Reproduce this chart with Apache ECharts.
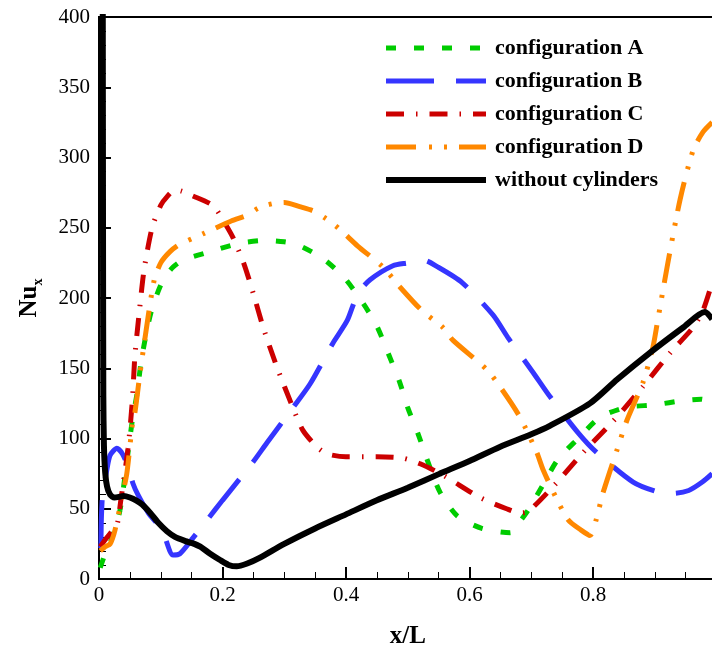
<!DOCTYPE html>
<html><head><meta charset="utf-8">
<script src="https://cdn.jsdelivr.net/npm/echarts@6/dist/echarts.min.js"></script>
<style>html,body{margin:0;padding:0;background:#fff}#c{width:712px;height:648px}</style>
</head><body><div id="c"></div>
<script>
const seriesNames = ['configuration A','configuration B','configuration C','configuration D','without cylinders'];
const xTickValues = [0, 0.2, 0.4, 0.6, 0.8, 1];
const yTickValues = [0, 50, 100, 150, 200, 250, 300, 350, 400];

const configA = [[0.002,8],[0.01,18],[0.02,28],[0.034,49],[0.047,90],[0.054,113],[0.062,133],[0.068,154],[0.078,178],[0.087,194],[0.104,213],[0.12,222],[0.136,227],[0.18,233],[0.228,239],[0.272,241],[0.3,240],[0.321,238],[0.363,228],[0.398,214],[0.428,196],[0.45,180],[0.468,161],[0.487,140],[0.5,122],[0.517,103],[0.533,83],[0.552,62],[0.58,45],[0.62,36],[0.666,33],[0.68,40],[0.695,49],[0.719,67],[0.743,85],[0.776,100],[0.811,115],[0.852,122],[0.9,124],[0.946,127],[0.975,128],[0.993,126]];

const configB = [[0.003,22],[0.004,45],[0.006,61],[0.012,76],[0.018,88],[0.029,93],[0.038,89],[0.047,80],[0.055,68],[0.063,60],[0.08,47],[0.102,35],[0.12,17],[0.131,18],[0.15,28],[0.175,42],[0.2,56],[0.249,83],[0.272,97],[0.314,122],[0.342,139],[0.379,168],[0.402,184],[0.419,203],[0.439,213],[0.476,223],[0.5,225],[0.525,227],[0.549,222],[0.588,211],[0.638,188],[0.662,172],[0.703,147],[0.73,130],[0.776,104],[0.806,90],[0.865,69],[0.905,62],[0.93,61],[0.955,63],[0.977,69],[0.993,75]];

const configC = [[0.002,23],[0.01,28],[0.023,35],[0.03,40],[0.035,55],[0.047,93],[0.054,127],[0.058,158],[0.065,189],[0.073,220],[0.086,250],[0.1,266],[0.11,272],[0.123,277],[0.134,276],[0.15,273],[0.184,266],[0.2,256],[0.217,243],[0.235,224],[0.25,203],[0.266,179],[0.288,151],[0.314,122],[0.33,106],[0.353,94],[0.37,89],[0.4,87],[0.45,87],[0.492,86],[0.52,82],[0.557,74],[0.617,58],[0.66,50],[0.682,47],[0.695,48],[0.738,67],[0.784,90],[0.832,112],[0.881,137],[0.925,161],[0.962,179],[0.978,191],[0.993,211]];

const configD = [[0.002,20],[0.01,23],[0.018,25],[0.026,35],[0.037,58],[0.045,75],[0.054,110],[0.058,118],[0.066,145],[0.074,170],[0.089,212],[0.1,225],[0.115,233],[0.13,238],[0.17,246],[0.215,255],[0.24,259],[0.258,264],[0.28,267],[0.3,268],[0.325,265],[0.347,262],[0.366,257],[0.387,250],[0.419,237],[0.46,222],[0.487,208],[0.523,191],[0.557,179],[0.573,170],[0.628,149],[0.654,134],[0.682,115],[0.709,90],[0.719,78],[0.74,58],[0.76,42],[0.78,35],[0.795,31],[0.805,42],[0.816,61],[0.839,92],[0.855,113],[0.881,140],[0.897,165],[0.904,182],[0.92,222],[0.941,270],[0.962,305],[0.978,318],[0.993,325]];

const withoutCylinders = [[0.006,450],[0.0065,250],[0.007,130],[0.008,95],[0.01,76],[0.013,66],[0.018,60],[0.025,58],[0.04,59],[0.05,58],[0.06,56],[0.07,53],[0.083,47],[0.096,40],[0.11,34],[0.123,30],[0.14,27],[0.151,25.5],[0.164,23],[0.18,18],[0.196,13.5],[0.21,10],[0.223,9],[0.24,11],[0.26,15],[0.3,25],[0.35,36],[0.4,46],[0.45,56],[0.5,65],[0.552,75],[0.6,84],[0.649,94],[0.7,103],[0.73,109],[0.795,125],[0.839,142],[0.892,161],[0.946,179],[0.981,190],[0.993,185]];

const seriesData = [configA, configB, configC, configD, withoutCylinders];
const colors = ['#00cc00', '#3535ff', '#cc0000', '#ff8800', '#000000'];
const dashes = [[10,18], [48,22], [18,12,1.5,12], [30,13,3,12,3,12], 'solid'];
const widths = [5, 5, 5, 5, 6];

const FONT = "'Liberation Serif','Times New Roman',serif";
const chart = echarts.init(document.getElementById('c'));
chart.setOption({
  animation: false,
  backgroundColor: '#fff',
  grid: { left: 99, top: 17, right: -4.5, bottom: 69, containLabel: false, outerBoundsMode: 'none',
          show: true, borderColor: '#000', borderWidth: 2, backgroundColor: 'transparent' },
  legend: {
    orient: 'vertical', left: 378, top: 32,
    itemWidth: 100, itemHeight: 21, itemGap: 11,
    itemStyle: { opacity: 0 },
    data: seriesNames.map((n, i) => ({ name: n, lineStyle: { width: widths[i] } })),
    textStyle: { fontFamily: FONT, fontSize: 22, fontWeight: 'bold', color: '#000', padding: [0,0,0,4], lineHeight: 21 }
  },
  xAxis: {
    type: 'value', min: 0, max: 1, interval: 0.2,
    name: 'x/L', nameLocation: 'middle', nameGap: 45,
    nameTextStyle: { fontFamily: FONT, fontSize: 25, fontWeight: 'bold', color: '#000' },
    axisLine: { show: true, lineStyle: { color: '#000', width: 2 } },
    axisTick: { show: true, inside: true, length: 12, lineStyle: { color: '#000', width: 2 } },
    minorTick: { show: true, splitNumber: 4, length: 7, lineStyle: { color: '#000', width: 1 } },
    splitLine: { show: false },
    axisLabel: { fontFamily: FONT, fontSize: 21, color: '#000', margin: 6,
      formatter: v => (v >= 1 ? '' : String(v)) }
  },
  yAxis: {
    type: 'value', min: 0, max: 400, interval: 50,
    name: '{a|Nu}{b|x}', nameLocation: 'middle', nameGap: 54, nameRotate: 90,
    nameTextStyle: { fontFamily: FONT, color: '#000',
      rich: { a: { fontFamily: FONT, fontSize: 25, fontWeight: 'bold', color: '#000', lineHeight: 30 },
              b: { fontFamily: FONT, fontSize: 14, fontWeight: 'bold', color: '#000', verticalAlign: 'bottom', lineHeight: 14 } } },
    axisLine: { show: true, lineStyle: { color: '#000', width: 2 } },
    axisTick: { show: true, inside: true, length: 12, lineStyle: { color: '#000', width: 2 } },
    minorTick: { show: true, splitNumber: 5, length: 7, lineStyle: { color: '#000', width: 1 } },
    splitLine: { show: false },
    axisLabel: { fontFamily: FONT, fontSize: 21, color: '#000', margin: 9 }
  },
  series: seriesNames.map((n, i) => ({
    name: n, type: 'line', data: seriesData[i],
    symbol: 'none', showSymbol: false, smooth: 0.25, clip: true,
    z: i === 4 ? 10 : 2 + i,
    lineStyle: { color: colors[i], width: widths[i], type: dashes[i], cap: 'butt' },
    itemStyle: { color: colors[i] }
  }))
});
</script>
</body></html>
